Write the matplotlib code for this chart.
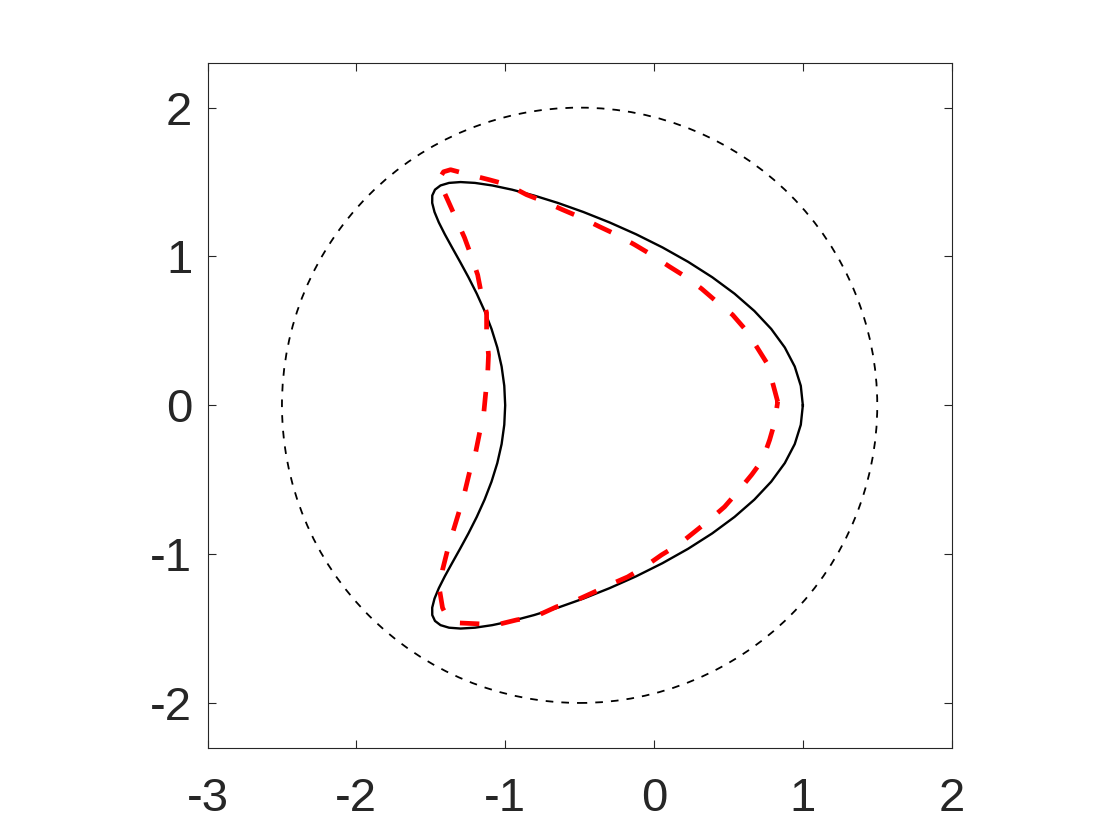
import matplotlib
matplotlib.use("Agg")
import matplotlib.pyplot as plt
from matplotlib.patches import Circle

plt.rcParams['font.family'] = ['Liberation Sans', 'DejaVu Sans']
plt.rcParams['axes.unicode_minus'] = False
plt.rcParams['lines.scale_dashes'] = False

# ---- data ----
# dotted reference circle
circle_center = (-0.5, 0.0)
circle_radius = 2.0

# exact boundary (kite), counterclockwise from the rightmost point
kite_x = [1.0, 0.9863, 0.9456, 0.8789, 0.7876, 0.6741, 0.5410, 0.3915, 0.2289, 0.0571,
          -0.1201, -0.2987, -0.4750, -0.6452, -0.8059, -0.9541, -1.0872, -1.2030, -1.3000,
          -1.3773, -1.4345, -1.4717, -1.4900, -1.4904, -1.4750, -1.4459, -1.4057, -1.3571,
          -1.3032, -1.2468, -1.1910, -1.1385, -1.0918, -1.0530, -1.0240, -1.0061, -1.0,
          -1.0061, -1.0240, -1.0530, -1.0918, -1.1385, -1.1910, -1.2468, -1.3032, -1.3571,
          -1.4057, -1.4459, -1.4750, -1.4904, -1.4900, -1.4717, -1.4345, -1.3773, -1.3000,
          -1.2030, -1.0872, -0.9541, -0.8059, -0.6452, -0.4750, -0.2987, -0.1201, 0.0571,
          0.2289, 0.3915, 0.5410, 0.6741, 0.7876, 0.8789, 0.9456, 0.9863, 1.0]
kite_y = [0.0, 0.1307, 0.2605, 0.3882, 0.5130, 0.6339, 0.75, 0.8604, 0.9642, 1.0607,
          1.1491, 1.2287, 1.2990, 1.3595, 1.4095, 1.4489, 1.4772, 1.4943, 1.5,
          1.4943, 1.4772, 1.4489, 1.4095, 1.3595, 1.2990, 1.2287, 1.1491, 1.0607,
          0.9642, 0.8604, 0.75, 0.6339, 0.5130, 0.3882, 0.2605, 0.1307, 0.0,
          -0.1307, -0.2605, -0.3882, -0.5130, -0.6339, -0.75, -0.8604, -0.9642, -1.0607,
          -1.1491, -1.2287, -1.2990, -1.3595, -1.4095, -1.4489, -1.4772, -1.4943, -1.5,
          -1.4943, -1.4772, -1.4489, -1.4095, -1.3595, -1.2990, -1.2287, -1.1491, -1.0607,
          -0.9642, -0.8604, -0.75, -0.6339, -0.5130, -0.3882, -0.2605, -0.1307, 0.0]

# reconstructed boundary (red dashed)
recon_x = [0.831, 0.797, 0.757, 0.690, 0.616, 0.528, 0.421, 0.320, 0.212, 0.105,
           -0.016, -0.130, -0.251, -0.366, -0.487, -0.614, -0.735, -0.856, -0.984, -1.105,
           -1.239, -1.367, -1.414, -1.448, -1.387, -1.327, -1.273, -1.226, -1.185, -1.159,
           -1.125, -1.125, -1.112, -1.118, -1.132, -1.145, -1.172, -1.199, -1.239, -1.273,
           -1.306, -1.347, -1.387, -1.421, -1.441, -1.421, -1.387, -1.320, -1.185, -1.058,
           -0.923, -0.802, -0.655, -0.547, -0.413, -0.298, -0.177, -0.063, 0.051, 0.172,
           0.273, 0.374, 0.474, 0.562, 0.656, 0.730, 0.777, 0.810, 0.831]
recon_y = [0.024, 0.151, 0.286, 0.393, 0.507, 0.608, 0.696, 0.783, 0.864, 0.931,
           1.011, 1.079, 1.146, 1.200, 1.260, 1.314, 1.368, 1.415, 1.482, 1.515,
           1.549, 1.583, 1.569, 1.515, 1.381, 1.247, 1.126, 0.998, 0.877, 0.743,
           0.622, 0.474, 0.339, 0.205, 0.071, -0.064, -0.185, -0.319, -0.447, -0.588,
           -0.702, -0.837, -0.971, -1.106, -1.240, -1.361, -1.428, -1.462, -1.468, -1.475,
           -1.442, -1.421, -1.354, -1.321, -1.260, -1.206, -1.153, -1.085, -1.005, -0.931,
           -0.850, -0.769, -0.682, -0.581, -0.467, -0.366, -0.232, -0.118, 0.024]

xticks = [-3, -2, -1, 0, 1, 2]
yticks = [-2, -1, 0, 1, 2]

# ---- figure ----
fig = plt.figure(figsize=(11.2, 8.4), dpi=100)
ax = fig.add_axes([0.13, 0.11, 0.775, 0.815])

axis_col = '#262626'

ax.add_patch(Circle(circle_center, circle_radius, fill=False, edgecolor='black',
                    linewidth=1.3, linestyle=(0, (5.5, 5.8))))
ax.plot(kite_x, kite_y, color='black', linewidth=1.7, solid_joinstyle='round')
ax.plot(recon_x, recon_y, color='red', linewidth=3.4, linestyle=(0, (14, 15.6)),
        dash_capstyle='butt')

ax.set_xlim(-3, 2)
ax.set_ylim(-2.3, 2.3)
ax.set_aspect('equal', adjustable='box')
ax.set_xticks(xticks)
ax.set_yticks(yticks)
ax.set_xticklabels([str(v) for v in xticks])
ax.set_yticklabels([str(v) for v in yticks])

ax.tick_params(axis='both', direction='in', top=True, right=True, length=5.5,
               width=0.8, color=axis_col, labelcolor=axis_col, labelsize=34)
ax.tick_params(axis='x', pad=21)
ax.tick_params(axis='y', pad=11)
for sp in ax.spines.values():
    sp.set_color(axis_col)
    sp.set_linewidth(0.8)

fig.savefig('out.png', dpi=100)
